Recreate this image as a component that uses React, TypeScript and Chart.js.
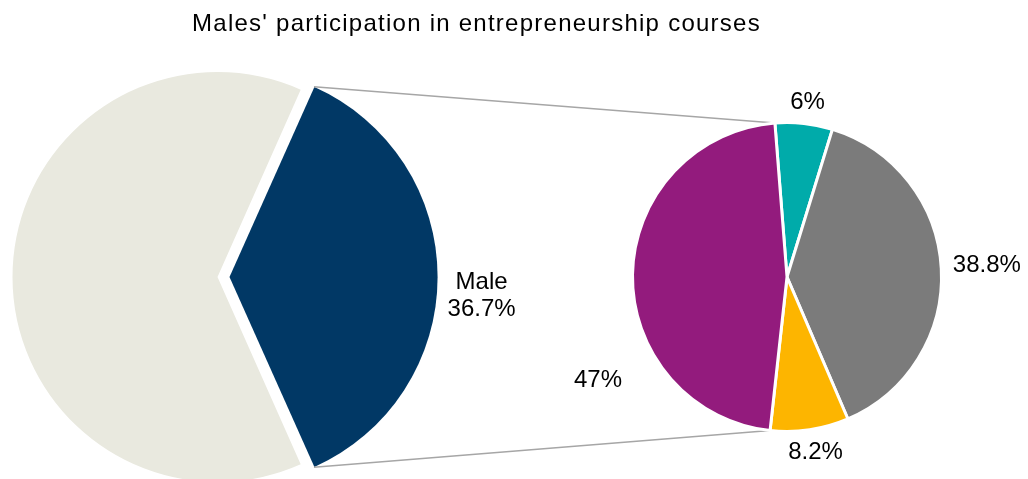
import React, { useEffect, useRef } from "react";
import { Chart, registerables } from "chart.js";

Chart.register(...registerables);

// ---------- data ----------
const TITLE = "Males' participation in entrepreneurship courses";
const mainLabels = ["Male", "Female"];
const mainValues = [36.7, 63.3];
const detailLabels = ["Group 1", "Group 2", "Group 3", "Group 4"];
const detailValues = [6, 38.8, 8.2, 47];

// ---------- styles ----------
const mainColors = ["#013865", "#E9E9DF"];
const detailColors = ["#00ABAA", "#7B7B7B", "#FDB500", "#931B7D"];
const FONT = "'Liberation Sans', Arial, Helvetica, sans-serif";
const LABEL_SIZE = 24;
const LINE_H = 27;

function arcGeom(el: any) {
  const p = el.getProps(["x", "y", "startAngle", "endAngle", "outerRadius"], true);
  const off = (el.options.offset || 0) / 4;
  const half = (p.startAngle + p.endAngle) / 2;
  const circ = p.endAngle - p.startAngle;
  const fix = 1 - Math.sin(Math.min(Math.PI, circ));
  return {
    cx: p.x + Math.cos(half) * off,
    cy: p.y + Math.sin(half) * off,
    r: p.outerRadius + off * fix,
    start: p.startAngle,
    end: p.endAngle,
    mid: half,
  };
}

function drawBlock(ctx: CanvasRenderingContext2D, lines: string[], cx: number, cy: number) {
  const cap = LABEL_SIZE * 0.716;
  const blockH = (lines.length - 1) * LINE_H + cap;
  const b0 = cy - blockH / 2 + cap;
  ctx.save();
  ctx.font = `${LABEL_SIZE}px ${FONT}`;
  ctx.fillStyle = "#000";
  ctx.textAlign = "center";
  ctx.textBaseline = "alphabetic";
  lines.forEach((l, i) => ctx.fillText(l, cx, b0 + i * LINE_H));
  ctx.restore();
}

function blockSize(ctx: CanvasRenderingContext2D, lines: string[]) {
  ctx.save();
  ctx.font = `${LABEL_SIZE}px ${FONT}`;
  const w = Math.max(...lines.map((l) => ctx.measureText(l).width));
  ctx.restore();
  const h = (lines.length - 1) * LINE_H + LABEL_SIZE * 0.716;
  return { w, h };
}

function outsidePos(g: { cx: number; cy: number; r: number }, angle: number, gap: number, w: number, h: number) {
  const ux = Math.cos(angle);
  const uy = Math.sin(angle);
  return {
    x: g.cx + (g.r + gap) * ux + (w / 2) * ux,
    y: g.cy + (g.r + gap) * uy + (h / 2) * uy,
  };
}

const fmt = (v: number) => `${v}%`;

export default function App() {
  const leftRef = useRef<HTMLCanvasElement>(null);
  const rightRef = useRef<HTMLCanvasElement>(null);

  useEffect(() => {
    const prevMargin = document.body.style.margin;
    document.body.style.margin = "0";

    const mainLabelPlugin = {
      id: "mainLabel",
      afterDatasetsDraw(chart: any) {
        const ctx = chart.ctx as CanvasRenderingContext2D;
        const el = chart.getDatasetMeta(0).data[0];
        const g = arcGeom(el);
        const lines = [mainLabels[0], fmt(mainValues[0])];
        const { w, h } = blockSize(ctx, lines);
        const p = outsidePos(g, g.mid, 9, w, h);
        drawBlock(ctx, lines, p.x + 1, p.y + 16.5);
      },
    };

    const left = new Chart(leftRef.current!, {
      type: "pie",
      data: {
        labels: mainLabels,
        datasets: [
          {
            data: mainValues,
            backgroundColor: mainColors,
            borderWidth: 0,
            offset: [48, 0],
          },
        ],
      },
      options: {
        responsive: false,
        animation: false,
        events: [],
        radius: 205,
        rotation: 90 - (mainValues[0] * 3.6) / 2,
        layout: { padding: { left: 0, right: 518, top: 49, bottom: 0 } },
        plugins: {
          legend: { display: false },
          tooltip: { enabled: false },
          title: { display: false },
        },
      } as any,
      plugins: [mainLabelPlugin],
    });

    const detailGap = [15, 12, 12, 40];
    const detailShift = [0, -1.5, 0, -31];

    const connectorPlugin = {
      id: "connectors",
      beforeDatasetsDraw(chart: any) {
        const ctx = chart.ctx as CanvasRenderingContext2D;
        const a = arcGeom(left.getDatasetMeta(0).data[0]);
        const b = arcGeom(chart.getDatasetMeta(0).data[detailValues.length - 1]);
        ctx.save();
        ctx.strokeStyle = "#A6A6A6";
        ctx.lineWidth = 1.5;
        ctx.beginPath();
        ctx.moveTo(a.cx + a.r * Math.cos(a.start), a.cy + a.r * Math.sin(a.start));
        ctx.lineTo(b.cx + b.r * Math.cos(b.end), b.cy + b.r * Math.sin(b.end));
        ctx.moveTo(a.cx + a.r * Math.cos(a.end), a.cy + a.r * Math.sin(a.end));
        ctx.lineTo(b.cx + b.r * Math.cos(b.start), b.cy + b.r * Math.sin(b.start));
        ctx.stroke();
        ctx.restore();
      },
      afterDatasetsDraw(chart: any) {
        const ctx = chart.ctx as CanvasRenderingContext2D;
        chart.getDatasetMeta(0).data.forEach((el: any, i: number) => {
          const g = arcGeom(el);
          const lines = [fmt(detailValues[i])];
          const { w, h } = blockSize(ctx, lines);
          const ang = g.mid + (detailShift[i] * Math.PI) / 180;
          const p = outsidePos(g, ang, detailGap[i], w, h);
          drawBlock(ctx, lines, p.x, p.y);
        });
      },
    };

    const right = new Chart(rightRef.current!, {
      type: "pie",
      data: {
        labels: detailLabels,
        datasets: [
          {
            data: detailValues,
            backgroundColor: detailColors,
            borderColor: "#FFFFFF",
            borderWidth: 3,
          },
        ],
      },
      options: {
        responsive: false,
        animation: false,
        events: [],
        radius: 154.5,
        rotation: -4.5,
        layout: { padding: { left: 546, right: 0, top: 75, bottom: 0 } },
        plugins: {
          legend: { display: false },
          tooltip: { enabled: false },
          title: { display: false },
        },
      } as any,
      plugins: [connectorPlugin],
    });

    return () => {
      right.destroy();
      left.destroy();
      document.body.style.margin = prevMargin;
    };
  }, []);

  return (
    <div style={{ position: "relative", width: 1028, height: 479, overflow: "hidden", background: "#fff" }}>
      <canvas
        ref={leftRef}
        width={953}
        height={505}
        style={{ position: "absolute", left: 0, top: 0, width: 953, height: 505 }}
      />
      <canvas
        ref={rightRef}
        width={1028}
        height={479}
        style={{ position: "absolute", left: 0, top: 0, width: 1028, height: 479 }}
      />
      <div
        style={{
          position: "absolute",
          left: 0,
          top: 11.4,
          width: 953,
          textAlign: "center",
          fontFamily: FONT,
          fontSize: 24,
          lineHeight: "24px",
          letterSpacing: "1.25px",
          color: "#000",
          whiteSpace: "nowrap",
        }}
      >
        {TITLE}
      </div>
    </div>
  );
}
